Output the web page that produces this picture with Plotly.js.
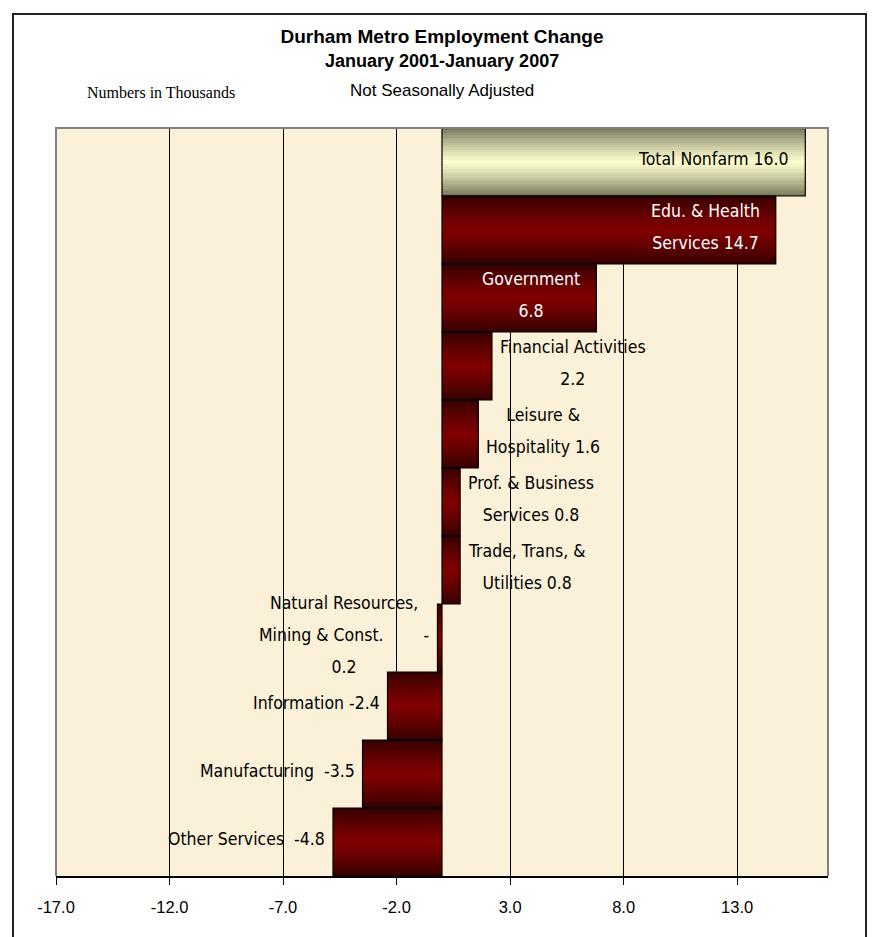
<!DOCTYPE html>
<html><head><meta charset="utf-8">
<script src="https://cdn.plot.ly/plotly-3.0.1.min.js"></script>
<style>html,body{margin:0;padding:0;background:#fff}#chart{width:872px;height:937px}</style>
</head><body><div id="chart"></div>
<script>
// ---- data ----
const categories = [
  "Total Nonfarm",
  "Edu. & Health Services",
  "Government",
  "Financial Activities",
  "Leisure & Hospitality",
  "Prof. & Business Services",
  "Trade, Trans, & Utilities",
  "Natural Resources, Mining & Const.",
  "Information",
  "Manufacturing",
  "Other Services"
];
const values = [16.0, 14.7, 6.8, 2.2, 1.6, 0.8, 0.8, -0.2, -2.4, -3.5, -4.8];
const labelLines = [
  ["Total Nonfarm 16.0"],
  ["Edu. & Health", "Services 14.7"],
  ["Government", "6.8"],
  ["Financial Activities", "2.2"],
  ["Leisure &", "Hospitality 1.6"],
  ["Prof. & Business", "Services 0.8"],
  ["Trade, Trans, &", "Utilities 0.8"],
  ["Natural Resources,", "Mining & Const.\u00a0\u00a0\u00a0\u00a0\u00a0\u00a0\u00a0\u00a0-", "0.2"],
  ["Information -2.4"],
  ["Manufacturing\u00a0\u00a0-3.5"],
  ["Other Services\u00a0\u00a0-4.8"]
];
const totalCategory = "Total Nonfarm";
const tickValues = [-17, -12, -7, -2, 3, 8, 13];
const tickLabels = ["-17.0", "-12.0", "-7.0", "-2.0", "3.0", "8.0", "13.0"];

// ---- styling ----
const labelFont = '"DejaVu Sans Condensed", "DejaVu Sans", sans-serif';
const titleFont = '"Liberation Sans", Arial, sans-serif';
const N = 14;
const redEdge = [52, 0, 0], redCenter = [128, 0, 0];
const yelEdge = [118, 118, 90], yelCenter = [252, 252, 205];
function lerp(a, b, t) { return a.map((v, i) => Math.round(v + (b[i] - v) * t)); }
function rgb(c) { return 'rgb(' + c.join(',') + ')'; }

const traces = [];
for (let k = 0; k < N; k++) {
  const t = Math.pow(k / (N - 1), 0.8);
  const w = 1 - k / N;
  traces.push({
    type: 'bar', orientation: 'h', x: values, y: categories, width: w,
    marker: {
      color: categories.map(c => c === totalCategory ? rgb(lerp(yelEdge, yelCenter, t)) : rgb(lerp(redEdge, redCenter, t))),
      line: { width: 0 }
    },
    hoverinfo: 'skip', showlegend: false
  });
}
traces.push({
  type: 'bar', orientation: 'h', x: values, y: categories, width: 1,
  marker: { color: 'rgba(0,0,0,0)', line: { color: '#000', width: 1.2 } },
  hoverinfo: 'skip', showlegend: false
});

const annotations = [];
values.forEach((v, i) => {
  const inside = v > 5;
  const neg = v < 0;
  const isTotal = categories[i] === totalCategory;
  annotations.push({
    xref: 'x', yref: 'y', x: v, y: categories[i],
    text: labelLines[i].map(l => '<span style="font-size:17.5px">' + l + '</span>').join('<br>'),
    showarrow: false,
    xanchor: (inside || neg) ? 'right' : 'left',
    xshift: inside ? -14 : (neg ? -6 : 6),
    yshift: 3,
    align: 'center',
    font: { family: labelFont, size: 24.6, color: (inside && !isTotal) ? '#ffffff' : '#000000' }
  });
});

const L = 56, R = 828, T = 128, B = 876;
const px2x = p => (p - L) / (R - L);
const py2y = p => (B - p) / (B - T);

annotations.push(
  { xref: 'paper', yref: 'paper', x: 0.5, y: py2y(61), text: '<b>January 2001-January 2007</b>',
    showarrow: false, xanchor: 'center', yanchor: 'middle', font: { family: titleFont, size: 18, color: '#000' } },
  { xref: 'paper', yref: 'paper', x: 0.5, y: py2y(91), text: 'Not Seasonally Adjusted',
    showarrow: false, xanchor: 'center', yanchor: 'middle', font: { family: titleFont, size: 17, color: '#000' } },
  { xref: 'paper', yref: 'paper', x: px2x(160.5), y: py2y(93), text: 'Numbers in Thousands',
    showarrow: false, xanchor: 'center', yanchor: 'middle', font: { family: '"Liberation Serif", "Times New Roman", serif', size: 16, color: '#000' } }
);

const layout = {
  width: 872, height: 937,
  margin: { l: L, r: 872 - R, t: T, b: 937 - B, pad: 0 },
  paper_bgcolor: '#ffffff',
  plot_bgcolor: '#fbf0d8',
  barmode: 'overlay',
  bargap: 0,
  showlegend: false,
  title: {
    text: '<b>Durham Metro Employment Change</b>',
    x: 0.5, xref: 'paper', xanchor: 'center',
    y: 1 - 36 / 937, yref: 'container', yanchor: 'middle',
    font: { family: titleFont, size: 19, color: '#000' }
  },
  xaxis: {
    range: [-17, 17],
    tickmode: 'array', tickvals: tickValues, ticktext: tickLabels,
    showgrid: true, gridcolor: '#000000', gridwidth: 1,
    zeroline: false,
    showline: true, linecolor: '#000000', linewidth: 1.5,
    ticks: 'outside', ticklen: 7, tickcolor: '#000000', tickwidth: 1,
    ticklabelstandoff: 9,
    tickfont: { family: titleFont, size: 16.5, color: '#000' },
    fixedrange: true
  },
  yaxis: {
    type: 'category', categoryorder: 'array', categoryarray: categories,
    range: [categories.length - 0.5, -0.5],
    showgrid: false, zeroline: false, showticklabels: false, ticks: '', showline: false,
    fixedrange: true
  },
  annotations: annotations,
  shapes: [
    { type: 'path', xref: 'paper', yref: 'paper', path: 'M 0,0 L 0,1 L 1,1 L 1,0',
      line: { color: '#808080', width: 2 }, layer: 'above' },
    { type: 'rect', xref: 'paper', yref: 'paper', x0: px2x(13), x1: px2x(866), y0: py2y(960), y1: py2y(14),
      line: { color: '#222222', width: 2 }, fillcolor: 'rgba(0,0,0,0)', layer: 'above' }
  ]
};

Plotly.newPlot('chart', traces, layout, { displayModeBar: false, staticPlot: true });
</script>
</body></html>
